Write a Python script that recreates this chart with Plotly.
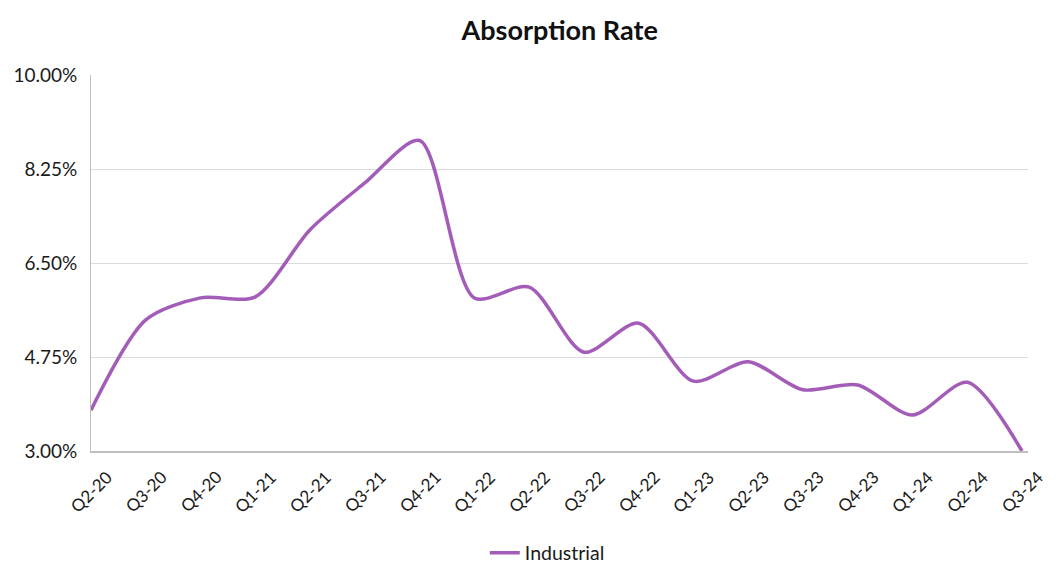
import plotly.graph_objects as go

quarters = ["Q2-20", "Q3-20", "Q4-20", "Q1-21", "Q2-21", "Q3-21", "Q4-21", "Q1-22", "Q2-22",
            "Q3-22", "Q4-22", "Q1-23", "Q2-23", "Q3-23", "Q4-23", "Q1-24", "Q2-24", "Q3-24"]
industrial = [3.76, 5.44, 5.85, 5.87, 7.12, 7.99, 8.78, 5.85, 6.05,
              4.84, 5.38, 4.30, 4.66, 4.14, 4.23, 3.67, 4.28, 3.00]
y_ticks = [3.00, 4.75, 6.50, 8.25, 10.00]
y_ticktext = ["3.00%", "4.75%", "6.50%", "8.25%", "10.00%"]

xs = list(range(len(quarters)))

fig = go.Figure()
fig.add_trace(go.Scatter(
    x=xs, y=industrial, mode="lines", name="Industrial",
    line=dict(color="#A35DB8", width=3.5, shape="spline", smoothing=0.8),
    cliponaxis=False,
))

# category labels, rotated and centred under each tick
for i, q in zip(xs, quarters):
    fig.add_annotation(x=i, xref="x", y=-0.107, yref="paper", text=q, showarrow=False,
                       textangle=-45, xanchor="center", yanchor="middle",
                       font=dict(size=17, color="#1a1a1a"))

fig.update_layout(
    width=1061, height=569,
    margin=dict(l=83, r=41, t=67, b=126, autoexpand=False),
    paper_bgcolor="white", plot_bgcolor="white",
    font=dict(family="Lato, sans-serif", color="#1a1a1a", size=16),
    title=dict(text="<b>Absorption Rate</b>", x=0.52, xanchor="center",
               y=1 - 23 / 569, yanchor="middle", font=dict(size=27, color="#111")),
    showlegend=True,
    legend=dict(orientation="h", x=0.487, xanchor="center", yref="container",
                y=1 - 545 / 569, yanchor="middle", font=dict(size=19.5)),
    xaxis=dict(
        tickvals=xs, showticklabels=False,
        range=[0, 17.11], showgrid=False, showline=True, linecolor="#bfbfbf", linewidth=1.5,
        ticks="", zeroline=False, automargin=False,
    ),
    yaxis=dict(
        range=[3, 10], tickvals=y_ticks, ticktext=y_ticktext, showgrid=True,
        gridcolor="#dcdcdc", gridwidth=1, showline=True, linecolor="#bfbfbf",
        linewidth=1, zeroline=False, ticks="", tickfont=dict(size=19), automargin=False,
        ticklabelstandoff=9,
    ),
)

fig.write_html("out.html")
